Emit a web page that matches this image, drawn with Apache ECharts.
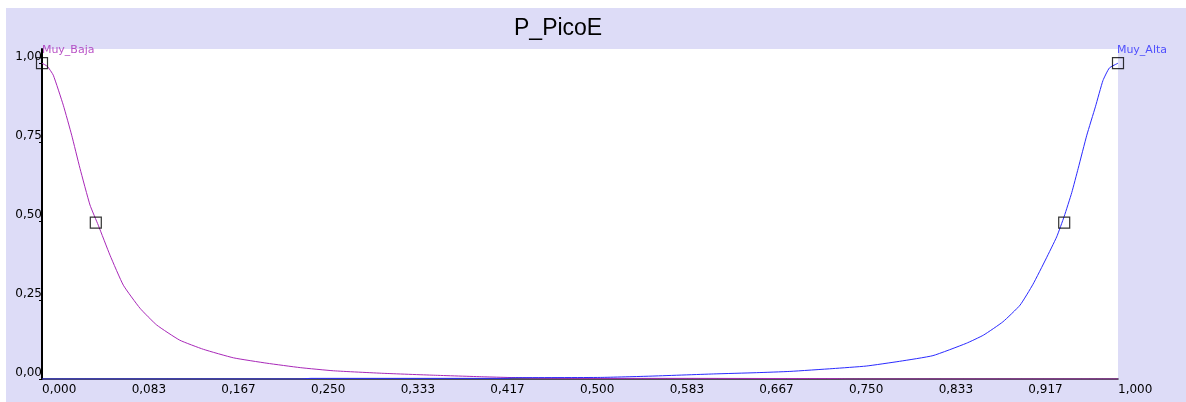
<!DOCTYPE html>
<html>
<head>
<meta charset="utf-8">
<script src="https://cdn.jsdelivr.net/npm/echarts@6/dist/echarts.min.js"></script>
<style>
  html, body { margin: 0; padding: 0; background: #fff; }
  #wrap { position: relative; width: 1186px; height: 402px; background: #fff; }
  #panel { position: absolute; left: 6px; top: 8px; right: 0; bottom: 0; background: #dddcf7; }
  #chart { position: absolute; left: 0; top: 0; width: 1186px; height: 402px; }
</style>
</head>
<body>
<div id="wrap">
  <div id="panel"></div>
  <div id="chart"></div>
</div>
<script>
  // curva Muy_Baja
  var muyBaja = [
    [0, 1], [0.005, 0.99], [0.0105, 0.962], [0.0198, 0.867], [0.0276, 0.772], [0.0353, 0.667],
    [0.0446, 0.551], [0.0523, 0.487], [0.0632, 0.392], [0.0756, 0.297], [0.0911, 0.224],
    [0.1066, 0.171], [0.128, 0.123], [0.150, 0.094], [0.178, 0.067], [0.209, 0.050],
    [0.240, 0.036], [0.271, 0.026], [0.317, 0.018], [0.364, 0.012], [0.410, 0.007],
    [0.456, 0.003], [0.50, 0.002], [0.60, 0.002], [0.74, 0.001], [0.75, 0], [1, 0]
  ]
  // curva Muy_Alta
  var muyAlta = [
    [0, 0], [0.24, 0], [0.25, 0.002], [0.43, 0.002], [0.44, 0.004], [0.519, 0.005],
    [0.565, 0.009], [0.624, 0.016], [0.664, 0.020], [0.695, 0.024], [0.735, 0.033],
    [0.766, 0.041], [0.797, 0.056], [0.828, 0.074], [0.859, 0.113], [0.875, 0.139],
    [0.893, 0.181], [0.909, 0.234], [0.921, 0.300], [0.933, 0.380], [0.943, 0.450],
    [0.950, 0.515], [0.957, 0.590], [0.963, 0.667], [0.971, 0.772], [0.979, 0.862],
    [0.986, 0.945], [0.992, 0.985], [1, 1]
  ]
  // puntos de control (cuadrados)
  var bajaMarks = [[0, 1], [0.05, 0.495]]
  var altaMarks = [[0.95, 0.495], [1, 1]]
  var xTicks = [0, 1 / 12, 2 / 12, 3 / 12, 4 / 12, 5 / 12, 6 / 12, 7 / 12, 8 / 12, 9 / 12, 10 / 12, 11 / 12, 1]
  var yTicks = [0, 0.25, 0.5, 0.75, 1]

  var colorBaja = '#a828b8'
  var colorAlta = '#2a2aff'

  function fmt(v, d) {
    return v.toFixed(d).replace('.', ',')
  }

  function markLabel(name, idx) {
    return function (p) { return p.dataIndex === idx ? name : '' }
  }

  var chart = echarts.init(document.getElementById('chart'), null, {renderer: 'canvas'})
  chart.setOption({
    animation: false,
    backgroundColor: 'transparent',
    title: {
      text: 'P_PicoE',
      left: 509,
      top: 12,
      textStyle: {fontFamily: 'Liberation Sans', fontSize: 23, fontWeight: 'normal', color: '#000'}
    },
    grid: {
      left: 42, right: 68, top: 49, bottom: 23,
      show: true, backgroundColor: '#fff', borderWidth: 0
    },
    xAxis: {
      type: 'value',
      min: 0,
      max: 1,
      splitLine: {show: false},
      axisLine: {show: true, lineStyle: {color: '#222', width: 1.5}},
      axisTick: {show: false},
      axisLabel: {
        customValues: xTicks,
        formatter: function (v) { return fmt(v, 3) },
        align: 'left',
        margin: 5,
        color: '#000',
        fontFamily: 'DejaVu Sans',
        fontSize: 12
      }
    },
    yAxis: {
      type: 'value',
      min: 0,
      max: 1.045,
      splitLine: {show: false},
      axisLine: {show: true, onZero: false, lineStyle: {color: '#000', width: 2}},
      axisTick: {show: true, customValues: yTicks, length: 3, lineStyle: {color: '#000'}},
      axisLabel: {
        customValues: yTicks,
        formatter: function (v) { return fmt(v, 2) },
        margin: 0,
        verticalAlign: 'bottom',
        color: '#000',
        fontFamily: 'DejaVu Sans',
        fontSize: 12
      }
    },
    series: [
      {
        type: 'line', name: 'Muy_Baja', data: muyBaja, smooth: 0.15, showSymbol: false,
        lineStyle: {color: colorBaja, width: 1}, z: 3
      },
      {
        type: 'line', name: 'Muy_Alta', data: muyAlta, smooth: 0.15, showSymbol: false,
        lineStyle: {color: colorAlta, width: 1}, z: 3
      },
      {
        type: 'scatter', data: bajaMarks, symbol: 'rect', symbolSize: 11, z: 4,
        itemStyle: {color: 'rgba(0,0,0,0)', borderColor: '#000', borderWidth: 1.2},
        label: {
          show: true, position: [6, -1], align: 'left', verticalAlign: 'bottom',
          formatter: markLabel('Muy_Baja', 0),
          color: colorBaja, fontFamily: 'DejaVu Sans', fontSize: 11
        }
      },
      {
        type: 'scatter', data: altaMarks, symbol: 'rect', symbolSize: 11, z: 4,
        itemStyle: {color: 'rgba(0,0,0,0)', borderColor: '#000', borderWidth: 1.2},
        label: {
          show: true, position: [5, -1], align: 'left', verticalAlign: 'bottom',
          formatter: markLabel('Muy_Alta', 1),
          color: colorAlta, fontFamily: 'DejaVu Sans', fontSize: 11
        }
      }
    ]
  })
</script>
</body>
</html>
